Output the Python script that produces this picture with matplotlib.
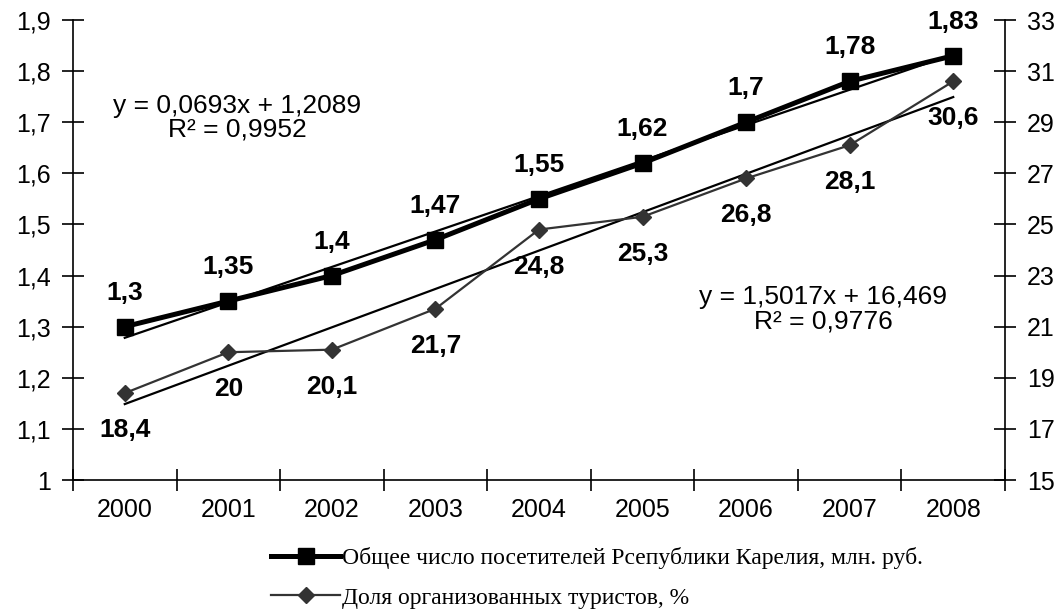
import matplotlib
matplotlib.use("Agg")
import matplotlib.pyplot as plt
import numpy as np

years = ["2000", "2001", "2002", "2003", "2004", "2005", "2006", "2007", "2008"]
visitors = [1.3, 1.35, 1.4, 1.47, 1.55, 1.62, 1.7, 1.78, 1.83]
share = [18.4, 20, 20.1, 21.7, 24.8, 25.3, 26.8, 28.1, 30.6]
visitor_labels = ["1,3", "1,35", "1,4", "1,47", "1,55", "1,62", "1,7", "1,78", "1,83"]
share_labels = ["18,4", "20", "20,1", "21,7", "24,8", "25,3", "26,8", "28,1", "30,6"]
left_ticks = [1.0, 1.1, 1.2, 1.3, 1.4, 1.5, 1.6, 1.7, 1.8, 1.9]
left_tick_labels = ["1", "1,1", "1,2", "1,3", "1,4", "1,5", "1,6", "1,7", "1,8", "1,9"]
right_ticks = [15, 17, 19, 21, 23, 25, 27, 29, 31, 33]
name1 = "Общее число посетителей Рсепублики Карелия, млн. руб."
name2 = "Доля организованных туристов, %"
eq1 = "y = 0,0693x + 1,2089\nR² = 0,9952"
eq2 = "y = 1,5017x + 16,469\nR² = 0,9776"

SANS = "Liberation Sans"
SERIF = "Liberation Serif"

fig = plt.figure(figsize=(10.64, 6.12), dpi=100)
ax = fig.add_axes([73/1064, 1-480/612, (1005-73)/1064, 460/612])
ax2 = ax.twinx()

x = np.arange(len(years))
xfit = np.arange(1, len(years) + 1)

# trend lines
p1 = np.polyfit(xfit, visitors, 1)
p2 = np.polyfit(xfit, share, 1)
ax.plot(x, np.polyval(p1, xfit), color="black", lw=1.6, zorder=2)
ax2.plot(x, np.polyval(p2, xfit), color="black", lw=1.6, zorder=2)

l1, = ax.plot(x, visitors, color="black", lw=3.6, marker="s", ms=12, zorder=3, label=name1)
l2, = ax2.plot(x, share, color="#333333", lw=1.6, marker="D", ms=8, zorder=3, label=name2)

for xi, v, t in zip(x, visitors, visitor_labels):
    ax.annotate(t, (xi, v), xytext=(0, 34), textcoords="offset pixels", ha="center", va="center",
                fontsize=19, fontweight="bold", family=SANS)
for xi, v, t in zip(x, share, share_labels):
    ax2.annotate(t, (xi, v), xytext=(0, -37), textcoords="offset pixels", ha="center", va="center",
                 fontsize=19, fontweight="bold", family=SANS)

ax.text(237/1064, 1-118/612, eq1, transform=fig.transFigure, ha="center", va="center",
        fontsize=19, family=SANS, linespacing=1.0)
ax.text(823/1064, 1-309/612, eq2, transform=fig.transFigure, ha="center", va="center",
        fontsize=19, family=SANS, linespacing=1.0)

ax.set_xlim(-0.5, len(years) - 0.5)
ax.set_ylim(1.0, 1.9)
ax2.set_ylim(15, 33)

ax.set_xticks(np.arange(-0.5, len(years), 1.0))
ax.set_xticklabels([])
ax.set_xticks(x, minor=True)
ax.set_xticklabels(years, minor=True, fontsize=18, family=SANS)
ax.tick_params(axis="x", which="minor", length=0, pad=13)
ax.tick_params(axis="x", which="major", direction="inout", length=16, width=1.2)

ax.set_yticks(left_ticks)
ax.set_yticklabels(left_tick_labels, fontsize=18, family=SANS)
ax.tick_params(axis="y", direction="inout", length=16, width=1.2, pad=8)

ax2.set_yticks(right_ticks)
ax2.set_yticklabels([str(t) for t in right_ticks], fontsize=18, family=SANS)
ax2.tick_params(axis="y", direction="inout", length=16, width=1.2, pad=8)

for a in (ax, ax2):
    a.spines["top"].set_visible(False)
    for s in ("left", "right", "bottom"):
        a.spines[s].set_linewidth(1.2)
ax.spines["right"].set_visible(False)
ax2.spines["left"].set_visible(False)
ax2.spines["bottom"].set_visible(False)

leg = fig.legend(handles=[l1, l2], loc="upper left", bbox_to_anchor=(262/1064, 1-538/612),
                 frameon=False, prop={"family": SERIF, "size": 17}, handlelength=2.9,
                 handletextpad=0.1, labelspacing=0.75, borderaxespad=0)

fig.savefig("out.png", dpi=100)
